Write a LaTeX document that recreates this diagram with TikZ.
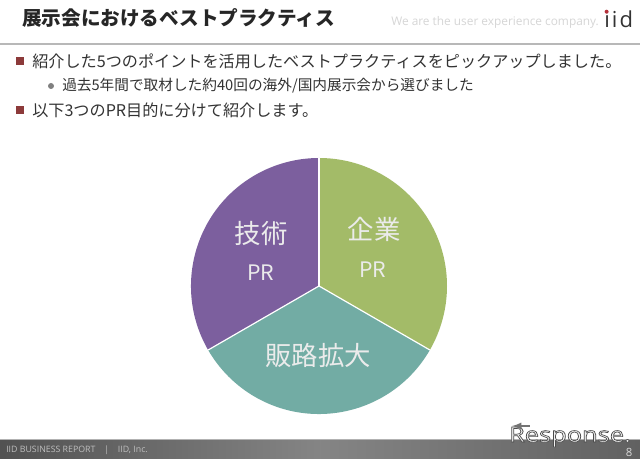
\documentclass[tikz,border=0pt]{standalone}
\usepackage{xcolor}
\usepackage{fontspec}
\setmainfont{Noto Sans CJK JP}
\newfontfamily\latinfont{Open Sans}
\usetikzlibrary{arrows}
\definecolor{slicegreen}{HTML}{A3BB68}
\definecolor{slicepurple}{HTML}{7C5F9E}
\definecolor{sliceteal}{HTML}{72ACA4}
\definecolor{bulletred}{HTML}{8C3A3A}
\definecolor{logored}{HTML}{B5303A}
\tikzset{
    x=0.75pt, y=0.75pt,
    titlelabel/.style={anchor=west, inner sep=0pt, font=\fontsize{14.7}{16}\selectfont\bfseries, text=black!85},
    mainlabel/.style={anchor=west, inner sep=0pt, font=\fontsize{12.1}{14}\selectfont, text=black!80},
    sublabel/.style={anchor=west, inner sep=0pt, font=\fontsize{11}{12}\selectfont, text=black!80},
    slicelabel/.style={inner sep=0pt, font=\fontsize{19.8}{22}\selectfont, text=white!92!black},
    prlabel/.style={inner sep=0pt, font=\fontsize{16}{18}\selectfont, text=white!92!black},
    divider/.style={white, line width=0.9pt},
    bulletmark/.style={rectangle, fill=bulletred, inner sep=0pt, minimum size=6pt},
    dotmark/.style={circle, fill=black!50, inner sep=0pt, minimum size=4.5pt}
}
\begin{document}
\begin{tikzpicture}
    \useasboundingbox (0,0) rectangle (640,458);
    \fill[white] (0,0) rectangle (640,458);
    % header
    \draw (22,440) node[titlelabel] (title) {展示会におけるベストプラクティス};
    \draw (391,436) node[anchor=west, inner sep=0pt, font=\latinfont\fontsize{8.9}{10}\selectfont, text=black!16] (slogan) {We are the user experience company.};
    \draw (604,439) node[anchor=west, inner sep=0pt, font=\latinfont\fontsize{16.5}{18}\selectfont, text=black!80] (logo) {i\kern1.6pt i\kern1.6pt d};
    \draw (606.6,446.3) node[circle, fill=logored, inner sep=0pt, minimum size=3pt] (logodot) {};
    \fill[black!28] (0,413) rectangle (640,415);
    % bullets
    \draw (20,397) node[bulletmark] (bullet1) {};
    \draw (32,397) node[mainlabel] (line1) {紹介した5つのポイントを活用したベストプラクティスをピックアップしました。};
    \draw (51,372) node[dotmark] (dot1) {};
    \draw (62,372) node[sublabel] (line2) {過去5年間で取材した約40回の海外/国内展示会から選びました};
    \draw (20,348) node[bulletmark] (bullet2) {};
    \draw (32,348) node[mainlabel] (line3) {以下3つのPR目的に分けて紹介します。};
    % pie
    \coordinate (center) at (319,172);
    \fill[slicegreen] (center) -- ++(90:128) arc (90:-30:128) -- cycle;
    \fill[sliceteal] (center) -- ++(-30:128) arc (-30:-150:128) -- cycle;
    \fill[slicepurple] (center) -- ++(-150:128) arc (-150:-270:128) -- cycle;
    \draw[divider] (center) -- ++(90:128);
    \draw[divider] (center) -- ++(-30:128);
    \draw[divider] (center) -- ++(-150:128);
    \draw (374,229) node[slicelabel] (kigyo) {企業};
    \draw (373,188) node[prlabel] (kigyopr) {PR};
    \draw (261,225) node[slicelabel] (gijutsu) {技術};
    \draw (261,185) node[prlabel] (gijutsupr) {PR};
    \draw (318,103) node[slicelabel] (hanro) {販路拡大};
    % footer
    \shade[left color=black!68, right color=black!62, middle color=black!48] (0,0) rectangle (640,18);
    \fill[black!30] (0,18) rectangle (640,19);
    \draw (6,8) node[anchor=west, inner sep=0pt, font=\latinfont\fontsize{6.6}{8}\selectfont, text=black!25] (report) {IID BUSINESS REPORT\quad|\quad IID, Inc.};
    \draw (629,6) node[inner sep=0pt, font=\latinfont\fontsize{8.5}{9}\selectfont, text=white!85!black] (page) {8};
    \draw (570,21) node[inner sep=0pt, xscale=1.27, yscale=1.05, font=\latinfont\fontsize{15}{15}\selectfont] (response) {\special{pdf:code q 2 Tr 0.45 w 0.3 G 0.95 g}Response.\special{pdf:code 0 Tr Q}};
    \coordinate (arrowtip) at (512,32);
    \coordinate (arrowend) at (530,32);
    \draw[black!55, line width=1.4pt, <-, >=latex] (arrowtip) -- (arrowend);
\end{tikzpicture}
\end{document}
